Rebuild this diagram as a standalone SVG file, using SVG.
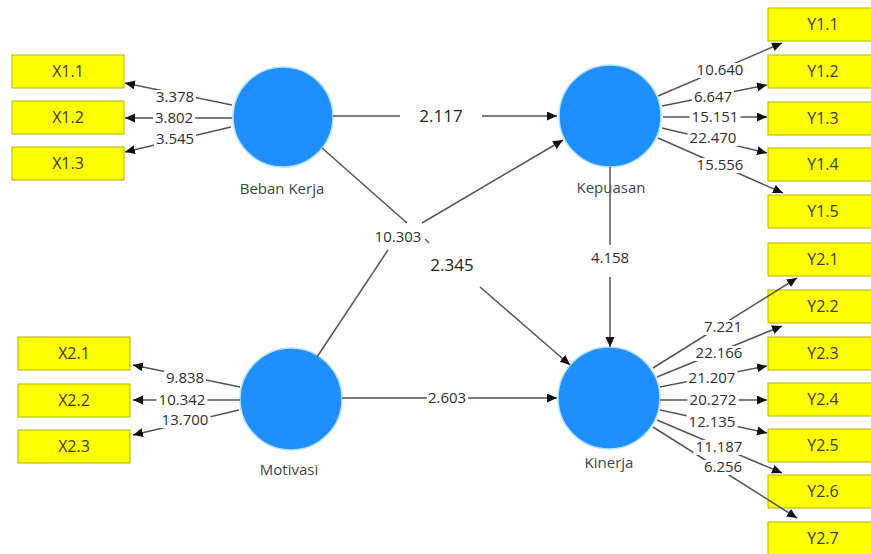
<svg xmlns="http://www.w3.org/2000/svg" width="871" height="554" viewBox="0 0 871 554">
  <defs>
    <marker id="arrow" markerUnits="userSpaceOnUse" markerWidth="11" markerHeight="10" refX="10" refY="4.5" orient="auto">
      <path d="M0,0 L10,4.5 L0,9 Z" fill="#111"/>
    </marker>
    <style>
      text { font-family: "Open Sans", "Noto Sans", "DejaVu Sans", sans-serif; fill: #333; }
      .ind rect { fill: #ffff00; stroke: #b3b300; stroke-width: 1; }
      .ind text { font-size: 16px; text-anchor: middle; fill: #3c3c2a; }
      .lv circle { fill: #1e8ffc; stroke: #b9e2ff; stroke-width: 1.5; }
      .lv text { font-size: 15px; text-anchor: middle; fill: #444; }
      .cn line { stroke: #555; stroke-width: 1.5; fill: none; }
      .ar { marker-end: url(#arrow); }
      .bg { fill: #fff; }
      .num { font-size: 15px; text-anchor: middle; fill: #2e2e2e; }
      .big { font-size: 17px; fill: #222; }
    </style>
  </defs>
  <rect width="871" height="554" fill="#fff"/>

  <!-- indicator boxes -->
  <g id="X1.1" class="ind"><rect x="12" y="55" width="112" height="33"/><text x="68" y="77">X1.1</text></g>
  <g id="X1.2" class="ind"><rect x="12" y="101" width="112" height="33"/><text x="68" y="123">X1.2</text></g>
  <g id="X1.3" class="ind"><rect x="12" y="147" width="112" height="33"/><text x="68" y="169">X1.3</text></g>
  <g id="X2.1" class="ind"><rect x="18" y="337" width="112" height="33"/><text x="74" y="359">X2.1</text></g>
  <g id="X2.2" class="ind"><rect x="18" y="384" width="112" height="33"/><text x="74" y="406">X2.2</text></g>
  <g id="X2.3" class="ind"><rect x="18" y="430" width="112" height="33"/><text x="74" y="452">X2.3</text></g>

  <g id="Y1.1" class="ind"><rect x="768" y="8" width="112" height="33"/><text x="823" y="30">Y1.1</text></g>
  <g id="Y1.2" class="ind"><rect x="768" y="55" width="112" height="33"/><text x="823" y="77">Y1.2</text></g>
  <g id="Y1.3" class="ind"><rect x="768" y="102" width="112" height="33"/><text x="823" y="124">Y1.3</text></g>
  <g id="Y1.4" class="ind"><rect x="768" y="148" width="112" height="33"/><text x="823" y="170">Y1.4</text></g>
  <g id="Y1.5" class="ind"><rect x="768" y="195" width="112" height="33"/><text x="823" y="217">Y1.5</text></g>

  <g id="Y2.1" class="ind"><rect x="768" y="243" width="112" height="33"/><text x="823" y="265">Y2.1</text></g>
  <g id="Y2.2" class="ind"><rect x="768" y="290" width="112" height="33"/><text x="823" y="312">Y2.2</text></g>
  <g id="Y2.3" class="ind"><rect x="768" y="337" width="112" height="33"/><text x="823" y="359">Y2.3</text></g>
  <g id="Y2.4" class="ind"><rect x="768" y="383" width="112" height="33"/><text x="823" y="405">Y2.4</text></g>
  <g id="Y2.5" class="ind"><rect x="768" y="429" width="112" height="33"/><text x="823" y="451">Y2.5</text></g>
  <g id="Y2.6" class="ind"><rect x="768" y="475" width="112" height="33"/><text x="823" y="497">Y2.6</text></g>
  <g id="Y2.7" class="ind"><rect x="768" y="522" width="112" height="33"/><text x="823" y="544">Y2.7</text></g>

  <!-- latent variables -->
  <g id="BebanKerja" class="lv"><circle cx="283" cy="117" r="50"/><text x="282" y="194">Beban Kerja</text></g>
  <g id="Kepuasan" class="lv"><circle cx="610" cy="116" r="51"/><text x="611" y="193">Kepuasan</text></g>
  <g id="Motivasi" class="lv"><circle cx="291" cy="399" r="51"/><text x="289" y="475">Motivasi</text></g>
  <g id="Kinerja" class="lv"><circle cx="609" cy="398" r="51"/><text x="609" y="468">Kinerja</text></g>

  <!-- connectors -->
  <g id="connectors" class="cn">
    <!-- Beban Kerja outer loadings -->
    <line class="ar" x1="232" y1="105" x2="125" y2="83"/>
    <line class="ar" x1="232" y1="118" x2="125" y2="118"/>
    <line class="ar" x1="231" y1="127" x2="125" y2="152"/>
    <!-- Motivasi outer loadings -->
    <line class="ar" x1="240" y1="387" x2="133" y2="365"/>
    <line class="ar" x1="240" y1="400" x2="133" y2="400"/>
    <line class="ar" x1="239" y1="410" x2="133" y2="435"/>
    <!-- Kepuasan outer loadings -->
    <line class="ar" x1="658" y1="96" x2="782" y2="43"/>
    <line class="ar" x1="662" y1="106" x2="767" y2="85"/>
    <line class="ar" x1="663" y1="117" x2="767" y2="117"/>
    <line class="ar" x1="662" y1="128" x2="767" y2="153"/>
    <line class="ar" x1="658" y1="138" x2="783" y2="193"/>
    <!-- Kinerja outer loadings -->
    <line class="ar" x1="653" y1="368" x2="797" y2="278"/>
    <line class="ar" x1="657" y1="377" x2="782" y2="326"/>
    <line class="ar" x1="660" y1="387" x2="767" y2="366"/>
    <line class="ar" x1="660" y1="400" x2="767" y2="400"/>
    <line class="ar" x1="660" y1="410" x2="767" y2="433"/>
    <line class="ar" x1="657" y1="420" x2="782" y2="473"/>
    <line class="ar" x1="653" y1="427" x2="797" y2="518"/>

    <!-- structural paths -->
    <line x1="333" y1="116" x2="400" y2="116"/>
    <line class="ar" x1="482" y1="116" x2="557" y2="116"/>

    <line x1="322" y1="148" x2="407" y2="223"/>
    <line x1="425" y1="239" x2="429" y2="243"/>
    <line class="ar" x1="480" y1="287" x2="570" y2="365"/>

    <line x1="317" y1="357" x2="388" y2="250"/>
    <line class="ar" x1="422" y1="223" x2="563" y2="140"/>

    <line x1="610" y1="167" x2="610" y2="245"/>
    <line class="ar" x1="610" y1="277" x2="610" y2="347"/>

    <line x1="342" y1="398" x2="427" y2="398"/>
    <line class="ar" x1="468" y1="398" x2="557" y2="398"/>

    <!-- label backgrounds -->
    <rect class="bg" x="154" y="90" width="42" height="15"/>
    <rect class="bg" x="153" y="111" width="42" height="15"/>
    <rect class="bg" x="154" y="132" width="42" height="15"/>
    <rect class="bg" x="164" y="371" width="42" height="15"/>
    <rect class="bg" x="156.5" y="393" width="51" height="15"/>
    <rect class="bg" x="159.5" y="413" width="51" height="15"/>
    <rect class="bg" x="694.5" y="63" width="51" height="15"/>
    <rect class="bg" x="692" y="90" width="42" height="15"/>
    <rect class="bg" x="689.5" y="110" width="51" height="15"/>
    <rect class="bg" x="687.5" y="131" width="51" height="15"/>
    <rect class="bg" x="694.5" y="158" width="51" height="15"/>
    <rect class="bg" x="702" y="320" width="42" height="15"/>
    <rect class="bg" x="693.5" y="346" width="51" height="15"/>
    <rect class="bg" x="686.5" y="371" width="51" height="15"/>
    <rect class="bg" x="687.5" y="393" width="51" height="15"/>
    <rect class="bg" x="686.5" y="415" width="51" height="15"/>
    <rect class="bg" x="693.5" y="440" width="51" height="15"/>
    <rect class="bg" x="702" y="460" width="42" height="15"/>

    <!-- path coefficients -->
    <text class="num" x="175" y="102">3.378</text>
    <text class="num" x="174" y="123">3.802</text>
    <text class="num" x="175" y="144">3.545</text>

    <text class="num" x="185" y="383">9.838</text>
    <text class="num" x="182" y="405">10.342</text>
    <text class="num" x="185" y="425">13.700</text>

    <text class="num" x="720" y="75">10.640</text>
    <text class="num" x="713" y="102">6.647</text>
    <text class="num" x="715" y="122">15.151</text>
    <text class="num" x="713" y="143">22.470</text>
    <text class="num" x="720" y="170">15.556</text>

    <text class="num" x="723" y="332">7.221</text>
    <text class="num" x="719" y="358">22.166</text>
    <text class="num" x="712" y="383">21.207</text>
    <text class="num" x="713" y="405">20.272</text>
    <text class="num" x="712" y="427">12.135</text>
    <text class="num" x="719" y="452">11.187</text>
    <text class="num" x="723" y="472">6.256</text>

    <text class="num big" x="441" y="122">2.117</text>
    <text class="num" x="398" y="242">10.303</text>
    <text class="num big" x="452" y="271">2.345</text>
    <text class="num" x="610" y="263">4.158</text>
    <text class="num" x="447" y="403">2.603</text>
  </g>
</svg>
